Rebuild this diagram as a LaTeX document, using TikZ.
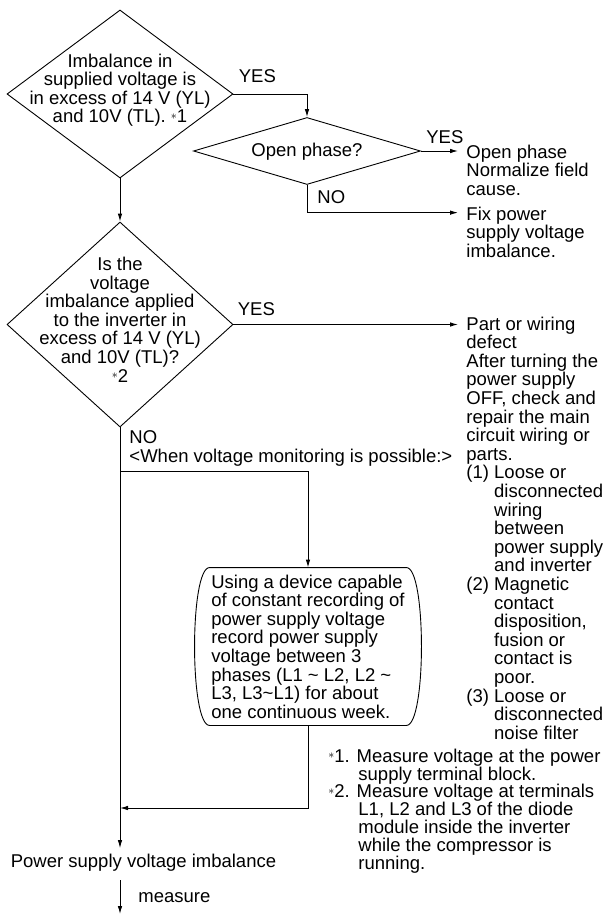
\documentclass[tikz,border=0pt]{standalone}
\usepackage{fontspec}
\setmainfont{Liberation Sans}
\usetikzlibrary{shapes.geometric,arrows.meta,positioning}

\newcommand{\smallast}{\raisebox{3.5pt}{\fontsize{13}{13}\selectfont$\ast$}}

\tikzset{
  flow/.style={-{Latex[length=8pt,width=4.5pt]}},
  txt/.style={font=\fontsize{18.5}{18.6}\selectfont, inner sep=0pt},
  decision/.style={draw, diamond, inner sep=0pt},
  res/.style={txt, anchor=base west, align=left, inner xsep=8pt},
  lbl/.style={txt, anchor=base west},
}

\begin{document}
\begin{tikzpicture}[x=1pt, y=-1pt, line width=0.9pt]
    \useasboundingbox (0,0) rectangle (606,915);

    % decisions (base = last line)
    \node (imb) [decision, minimum width=226pt, minimum height=168pt] at (120,94) {};
    \node (imbtxt) [txt, align=center, anchor=base] at (120,123) {Imbalance in\\supplied voltage is\\in excess of 14 V (YL)\\and 10V (TL). \smallast1};
    \node (open) [decision, minimum width=227pt, minimum height=67pt] at (307,151) {};
    \node (opentxt) [txt, anchor=base] at (307,156) {Open phase?};
    \node (inv) [decision, minimum width=226pt, minimum height=205pt] at (120,324.5) {};
    \node (invtxt) [txt, align=center, anchor=base] at (120,382) {Is the\\voltage\\imbalance applied\\to the inverter in\\excess of 14 V (YL)\\and 10V (TL)?\\\smallast2};

    % results on the right
    \node (opn) [res] at (458,195.2) {Open phase\\Normalize field\\cause.};
    \node (fix) [res] at (458,257.2) {Fix power\\supply voltage\\imbalance.};
    \node (part) [res] at (458,739.2) {Part or wiring\\defect\\After turning the\\power supply\\OFF, check and\\repair the main\\circuit wiring or\\parts.\\(1) Loose or\\\phantom{(1) }disconnected\\\phantom{(1) }wiring\\\phantom{(1) }between\\\phantom{(1) }power supply\\\phantom{(1) }and inverter\\(2) Magnetic\\\phantom{(2) }contact\\\phantom{(2) }disposition,\\\phantom{(2) }fusion or\\\phantom{(2) }contact is\\\phantom{(2) }poor.\\(3) Loose or\\\phantom{(3) }disconnected\\\phantom{(3) }noise filter};

    % recording step
    \node (rec) [txt, align=left, minimum width=196pt, minimum height=157pt] at (308,646.5) {Using a device capable\\of constant recording of\\power supply voltage\\record power supply\\voltage between 3\\phases (L1 \textasciitilde{} L2, L2 \textasciitilde\\L3, L3\textasciitilde L1) for about\\one continuous week.};
    \draw (rec.north west) -- (rec.north east)
        .. controls ([xshift=20pt]rec.north east) and ([xshift=20pt]rec.south east) .. (rec.south east)
        -- (rec.south west)
        .. controls ([xshift=-20pt]rec.south west) and ([xshift=-20pt]rec.north west) .. cycle;

    \node (psvi) [txt, anchor=base, inner ysep=5pt] at (143.5,867) {Power supply voltage imbalance};

    % notes
    \node (notes) [lbl, align=left, font=\fontsize{18.5}{17.8}\selectfont] at (328,869) {\smallast1. Measure voltage at the power\\\hspace*{30pt}supply terminal block.\\\smallast2. Measure voltage at terminals\\\hspace*{30pt}L1, L2 and L3 of the diode\\\hspace*{30pt}module inside the inverter\\\hspace*{30pt}while the compressor is\\\hspace*{30pt}running.};

    \coordinate (br) at (120,471);
    \coordinate (ret) at (120,808);
    \coordinate (mend) at (120,914);

    % connectors
    \draw[flow] (imb.east) -| node[lbl, at start, xshift=5pt, yshift=11pt] {YES} (open.north);
    \draw[flow] (open.east) -- node[lbl, at start, xshift=5pt, yshift=8pt] {YES} (open.east -| opn.west);
    \draw[flow] (open.south) |- node[lbl, at start, xshift=10pt, yshift=-19pt] {NO} ([yshift=-6.5pt]fix.north west);
    \draw[flow] (imb.south) -- (inv.north);
    \draw[flow] (inv.east) -- node[lbl, at start, xshift=4pt, yshift=9pt] {YES} (inv.east -| part.west);
    \draw[flow] (inv.south) -- node[lbl, at start, align=left, xshift=9pt, yshift=-35pt] {NO\\<When voltage monitoring is possible:>} (inv.south |- psvi.north);
    \draw[flow] (br) -| (rec.north);
    \draw[flow] (rec.south) |- (ret);
    \draw[flow] ([yshift=-4pt]psvi.south -| inv.south) -- node[lbl, midway, anchor=west, xshift=18pt] {measure} (mend);
\end{tikzpicture}
\end{document}
